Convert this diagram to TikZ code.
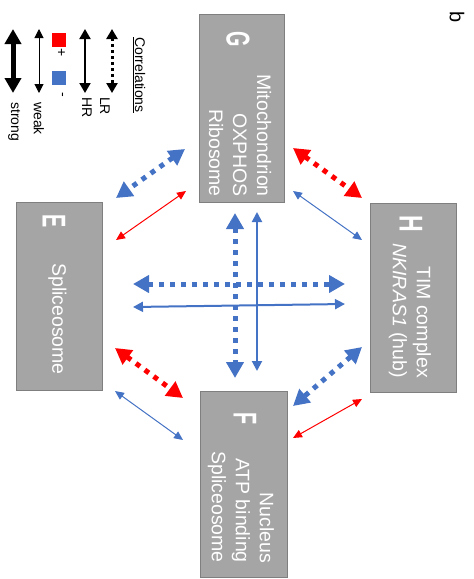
\documentclass[tikz,border=0pt]{standalone}
\usepackage{fontspec}
\setmainfont{Liberation Sans}
\usetikzlibrary{arrows.meta}
\definecolor{myblue}{HTML}{4472C4}
\definecolor{myred}{HTML}{FF0000}
\definecolor{boxfill}{HTML}{A5A5A5}
\definecolor{boxline}{HTML}{7F7F7F}
\begin{document}
\begin{tikzpicture}[x=1pt,y=-1pt,
  gbox/.style={draw=boxline, fill=boxfill, line width=1pt, inner sep=0pt},
  lbl/.style={text=white, rotate=-90, font=\fontsize{19.5}{24}\selectfont, align=right, inner sep=0pt},
  letter/.style={text=white, rotate=-90, font=\fontsize{33}{33}\selectfont\bfseries, inner sep=0pt},
  leg/.style={rotate=-90, font=\fontsize{14}{16}\selectfont, inner sep=0pt},
  dotarr/.style={line width=5pt, dash pattern=on 5pt off 6pt, {Triangle[width=17pt,length=16pt]}-{Triangle[width=17pt,length=16pt]}},
  medarr/.style={line width=2pt, {Triangle[width=10pt,length=10pt]}-{Triangle[width=10pt,length=10pt]}},
  thinarr/.style={line width=1pt, {Triangle[width=8pt,length=9pt]}-{Triangle[width=8pt,length=9pt]}}
]
\useasboundingbox (0,0) rectangle (474,579);

% boxes
\node[gbox, minimum width=85pt, minimum height=188pt] (G) at (241.5,108) {};
\node[gbox, minimum width=86pt, minimum height=189pt] (H) at (413,297.5) {};
\node[gbox, minimum width=87pt, minimum height=186pt] (F) at (243.5,484) {};
\node[gbox, minimum width=86pt, minimum height=188pt] (E) at (59,296) {};

% letters
\node[letter] (Gl) at (238,39.5) {\scalebox{0.6}[1]{G}};
\node[letter] (Hl) at (411,223.5) {\scalebox{0.7}[1]{H}};
\node[letter] (Fl) at (245,419) {\scalebox{0.6}[1]{F}};
\node[letter] (El) at (54,221.5) {\scalebox{0.6}[1]{E}};

% texts
\node[lbl, anchor=east] (Gt) at (240,197) {Mitochondrion\\OXPHOS\\Ribosome};
\node[lbl, anchor=east] (Ht) at (410,378) {TIM complex\\\textit{NKIRAS1} (hub)};
\node[lbl, anchor=east] (Ft) at (241,563) {Nucleus\\ATP binding\\Spliceosome};
\node[lbl, anchor=east] (Et) at (57.5,375) {Spliceosome};

% arrow end coordinates
\coordinate (v1a) at (235,213); \coordinate (v1b) at (235,378);
\coordinate (v2a) at (257,212); \coordinate (v2b) at (257,371);
\coordinate (h1a) at (133,284); \coordinate (h1b) at (345,284);
\coordinate (h2a) at (133,307); \coordinate (h2b) at (345,304);
\coordinate (ge1a) at (185,149); \coordinate (ge1b) at (116,198);
\coordinate (ge2a) at (186,191); \coordinate (ge2b) at (116,240);
\coordinate (gh1a) at (293,148); \coordinate (gh1b) at (362,198);
\coordinate (gh2a) at (293,191); \coordinate (gh2b) at (362,240);
\coordinate (ef1a) at (115,348); \coordinate (ef1b) at (183,398);
\coordinate (ef2a) at (115,391); \coordinate (ef2b) at (183,440);
\coordinate (hf1a) at (362,347); \coordinate (hf1b) at (293,406);
\coordinate (hf2a) at (362,399); \coordinate (hf2b) at (293,438);

% center cross
\draw[dotarr, myblue] (v1a) -- (v1b);
\draw[medarr, myblue] (v2a) -- (v2b);
\draw[dotarr, myblue] (h1a) -- (h1b);
\draw[medarr, myblue] (h2a) -- (h2b);

% diagonals
\draw[dotarr, myblue] (ge1a) -- (ge1b);
\draw[thinarr, myred] (ge2a) -- (ge2b);
\draw[dotarr, myred] (gh1a) -- (gh1b);
\draw[thinarr, myblue] (gh2a) -- (gh2b);
\draw[dotarr, myred] (ef1a) -- (ef1b);
\draw[thinarr, myblue] (ef2a) -- (ef2b);
\draw[dotarr, myblue] (hf1a) -- (hf1b);
\draw[thinarr, myred] (hf2a) -- (hf2b);

% legend
\node[leg, anchor=base west] (corr) at (135,37) {\underline{Correlations}};
\coordinate (lra) at (112,29); \coordinate (lrb) at (112,93);
\coordinate (hra) at (85,29); \coordinate (hrb) at (85,93);
\coordinate (wka) at (39,29); \coordinate (wkb) at (39,93);
\coordinate (sta) at (13,29); \coordinate (stb) at (13,93);
\draw[line width=3pt, dash pattern=on 3pt off 3pt, {Triangle[width=11pt,length=10pt]}-{Triangle[width=11pt,length=10pt]}] (lra) -- (lrb);
\draw[line width=2pt, {Triangle[width=11pt,length=10pt]}-{Triangle[width=11pt,length=10pt]}] (hra) -- (hrb);
\draw[line width=1pt, {Triangle[width=9pt,length=9pt]}-{Triangle[width=9pt,length=9pt]}] (wka) -- (wkb);
\draw[line width=5pt, {Triangle[width=16pt,length=15pt]}-{Triangle[width=16pt,length=15pt]}] (sta) -- (stb);
\node[leg, anchor=base west] (lrt) at (100,97) {LR};
\node[leg, anchor=base west] (hrt) at (82,97) {HR};
\node[leg, anchor=base west] (wkt) at (34,102) {weak};
\node[leg, anchor=base west] (stt) at (11,102) {strong};
\node[fill=myred, minimum size=14pt, inner sep=0pt] (rsq) at (59,40) {};
\node[fill=myblue, minimum size=14pt, inner sep=0pt] (bsq) at (59,77.5) {};
\node[leg] (plus) at (61,53) {+};
\node[leg] (minus) at (61,95) {-};
\node[rotate=-90, font=\fontsize{20}{20}\selectfont, inner sep=0pt] (b) at (457,17) {b};
\end{tikzpicture}
\end{document}
